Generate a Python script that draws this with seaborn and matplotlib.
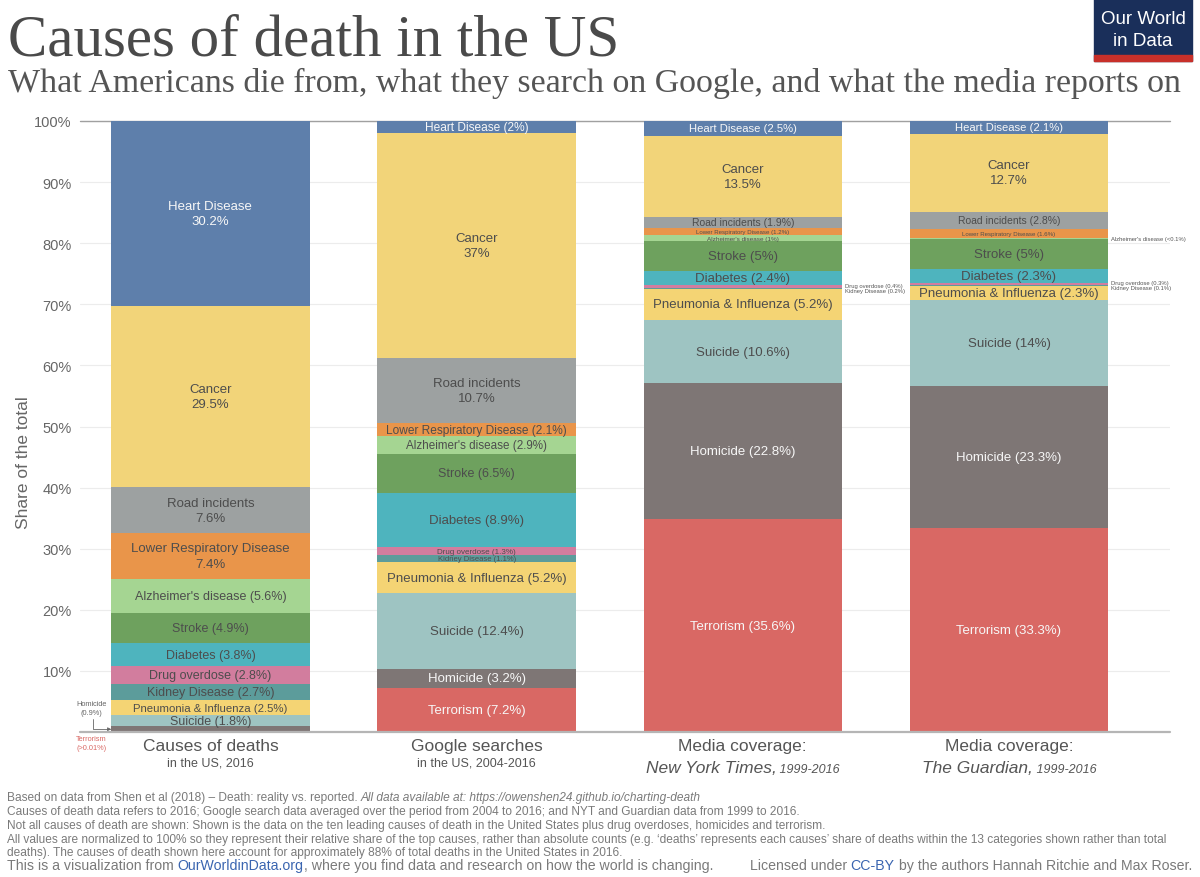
import matplotlib.pyplot as plt
import matplotlib.transforms as mtransforms
import pandas as pd
import seaborn as sns
from matplotlib.patches import Rectangle

SOURCES = ["deaths", "google", "nyt", "guardian"]

# bottom -> top stacking order
CAUSES = [
    "Terrorism", "Homicide", "Suicide", "Pneumonia & Influenza", "Kidney Disease",
    "Drug overdose", "Diabetes", "Stroke", "Alzheimer's disease",
    "Lower Respiratory Disease", "Road incidents", "Cancer", "Heart Disease",
]
DEATHS = [0.01, 0.9, 1.8, 2.5, 2.7, 2.8, 3.8, 4.9, 5.6, 7.4, 7.6, 29.5, 30.2]
GOOGLE = [7.2, 3.2, 12.4, 5.2, 1.1, 1.3, 8.9, 6.5, 2.9, 2.1, 10.7, 37, 2]
NYT = [35.6, 22.8, 10.6, 5.2, 0.2, 0.4, 2.4, 5, 1, 1.2, 1.9, 13.5, 2.5]
GUARDIAN = [33.3, 23.3, 14, 2.3, 0.1, 0.3, 2.3, 5, 0.05, 1.6, 2.8, 12.7, 2.1]

YTICKS = [10, 20, 30, 40, 50, 60, 70, 80, 90, 100]

COLORS = {
    "Heart Disease": "#5E7FAB",
    "Cancer": "#F2D479",
    "Road incidents": "#9DA1A1",
    "Lower Respiratory Disease": "#E9954A",
    "Alzheimer's disease": "#A5D592",
    "Stroke": "#6EA15E",
    "Diabetes": "#4EB4BE",
    "Drug overdose": "#D27D9E",
    "Kidney Disease": "#5C9C9B",
    "Pneumonia & Influenza": "#F4D474",
    "Suicide": "#9EC4C2",
    "Homicide": "#7E7675",
    "Terrorism": "#D96864",
}
WHITE_TEXT = {"Heart Disease", "Homicide", "Terrorism"}
TWO_LINE = {"Heart Disease", "Cancer", "Road incidents", "Lower Respiratory Disease"}
PCT_TEXT = {("guardian", "Alzheimer's disease"): "<0.1%", ("deaths", "Terrorism"): ">0.01%"}

SIZES = {
    ("deaths", "Alzheimer's disease"): 9, ("deaths", "Stroke"): 9,
    ("deaths", "Diabetes"): 9, ("deaths", "Drug overdose"): 9,
    ("deaths", "Kidney Disease"): 9, ("deaths", "Pneumonia & Influenza"): 8.2,
    ("deaths", "Suicide"): 9,
    ("google", "Heart Disease"): 8.6, ("google", "Lower Respiratory Disease"): 8.6,
    ("google", "Alzheimer's disease"): 8.4, ("google", "Stroke"): 9,
    ("google", "Drug overdose"): 5.8, ("google", "Kidney Disease"): 5.5,
    ("nyt", "Heart Disease"): 8.1, ("nyt", "Road incidents"): 7.5,
    ("nyt", "Lower Respiratory Disease"): 4.4, ("nyt", "Alzheimer's disease"): 4.6,
    ("guardian", "Heart Disease"): 8.1, ("guardian", "Road incidents"): 7.5,
    ("guardian", "Lower Respiratory Disease"): 4.4,
}
# labels drawn beside the bar (right side), with vertical anchoring
RIGHT_LABELS = {
    ("nyt", "Drug overdose"): "bottom", ("nyt", "Kidney Disease"): "top",
    ("guardian", "Alzheimer's disease"): "center",
    ("guardian", "Drug overdose"): "bottom", ("guardian", "Kidney Disease"): "top",
}
LEFT_LABELS = {("deaths", "Homicide"), ("deaths", "Terrorism")}

GREY = "#555555"
FOOT = "#7a7a7a"
BLUE = "#3a65b0"
BAR_W = 0.745


def build_frame():
    rows = []
    for source, values in zip(SOURCES, [DEATHS, GOOGLE, NYT, GUARDIAN]):
        total = sum(values)
        bottom = 0.0
        for cause, v in zip(CAUSES, values):
            share = v / total * 100
            rows.append(dict(source=source, cause=cause, value=v,
                             bottom=bottom, top=bottom + share))
            bottom += share
    return pd.DataFrame(rows)


def pieces_text(fig, x, y, pieces, transform, ha="center"):
    """Draw a run of differently styled strings on one baseline."""
    renderer = fig.canvas.get_renderer()
    texts = [fig.text(x, y, s, transform=transform, ha="left", va="baseline", **kw)
             for s, kw in pieces]
    widths = [t.get_window_extent(renderer).width for t in texts]
    total = sum(widths)
    offset = {"center": -total / 2, "left": 0, "right": -total}[ha]
    for t, w in zip(texts, widths):
        t.set_transform(transform + mtransforms.ScaledTranslation(
            offset / fig.dpi, 0, fig.dpi_scale_trans))
        offset += w


def main():
    df = build_frame()

    sns.set_theme(style="white")
    plt.rcParams["font.family"] = ["Liberation Sans", "DejaVu Sans"]

    fig = plt.figure(figsize=(12, 8.78), dpi=100)
    ax = fig.add_axes([80 / 1200, 145 / 878, 1090 / 1200, 611 / 878])

    # cumulative bars drawn top-down so each covers the one beneath
    for cause in reversed(CAUSES):
        sub = df[df["cause"] == cause]
        sns.barplot(data=sub, x="source", y="top", order=SOURCES,
                    color=COLORS[cause], saturation=1, width=BAR_W,
                    errorbar=None, linewidth=0, zorder=2, ax=ax)

    ax.set_xlim(-0.49, 3.605)
    ax.set_ylim(0, 100)
    ax.set_yticks(YTICKS)
    ax.set_yticklabels([f"{v}%" for v in YTICKS], color="#666666", fontsize=10.5)
    ax.tick_params(axis="y", length=0, pad=6)
    ax.set_xticks([])
    ax.set_xlabel("")
    ax.set_ylabel("Share of the total", color="#666666", fontsize=12.5)
    ax.yaxis.set_label_coords(-0.0445, 0.443)
    ax.yaxis.grid(True, color="#ececec", lw=0.8)
    ax.set_axisbelow(True)
    for s in ax.spines.values():
        s.set_visible(False)
    ax.axhline(100, color="#a0a0a0", lw=1, zorder=1, clip_on=False)
    ax.axhline(0, color="#b5b5b5", lw=1.6, zorder=3, clip_on=False)

    # segment labels
    for row in df.itertuples():
        key = (row.source, row.cause)
        x = SOURCES.index(row.source)
        pct = PCT_TEXT.get(key, f"{row.value:g}%")
        if key in RIGHT_LABELS:
            va = RIGHT_LABELS[key]
            y = {"bottom": row.bottom, "top": row.top,
                 "center": (row.bottom + row.top) / 2}[va]
            ax.text(x + BAR_W / 2 + 0.012, y, f"{row.cause} ({pct})", ha="left",
                    va=va, fontsize=4.2, color=GREY, clip_on=False)
            continue
        if key in LEFT_LABELS:
            continue
        if row.cause in TWO_LINE and row.value >= 7:
            text = f"{row.cause}\n{pct}"
        else:
            text = f"{row.cause} ({pct})"
        color = "#f7f7f7" if row.cause in WHITE_TEXT else "#4d4d4d"
        ax.text(x, (row.bottom + row.top) / 2, text, ha="center", va="center",
                fontsize=SIZES.get(key, 9.5), color=color, linespacing=1.35, zorder=3)

    # left-side notes for the tiny death shares
    hom = df[(df["source"] == "deaths") & (df["cause"] == "Homicide")].iloc[0]
    ax.text(-0.447, 3.9, "Homicide\n(0.9%)", ha="center", va="center",
            fontsize=5.3, color="#666666", linespacing=1.3, clip_on=False)
    ax.text(-0.447, -1.8, "Terrorism\n(" + PCT_TEXT[("deaths", "Terrorism")] + ")",
            ha="center", va="center", fontsize=5.3, color="#D96864",
            linespacing=1.3, clip_on=False)
    ax.annotate("", xy=(-BAR_W / 2, (hom.bottom + hom.top) / 2), xytext=(-0.44, 2.2),
                arrowprops=dict(arrowstyle="-|>", color="#666666", lw=0.6,
                                mutation_scale=5, shrinkA=0, shrinkB=0,
                                connectionstyle="angle,angleA=-90,angleB=0,rad=0"),
                annotation_clip=False)

    # category labels under the bars
    blend = mtransforms.blended_transform_factory(ax.transData, fig.transFigure)
    main_kw = dict(fontsize=12.5, color=GREY)
    sub_kw = dict(fontsize=9, color=GREY)
    lines = {
        "deaths": ([("Causes of deaths", main_kw)], [("in the US, 2016", sub_kw)]),
        "google": ([("Google searches", main_kw)], [("in the US, 2004-2016", sub_kw)]),
        "nyt": ([("Media coverage:", main_kw)],
                [("New York Times,", dict(main_kw, style="italic")),
                 (" 1999-2016", dict(sub_kw, style="italic"))]),
        "guardian": ([("Media coverage:", main_kw)],
                     [("The Guardian,", dict(main_kw, style="italic")),
                      (" 1999-2016", dict(sub_kw, style="italic"))]),
    }
    fig.canvas.draw()
    for i, source in enumerate(SOURCES):
        first, second = lines[source]
        pieces_text(fig, i, 1 - 751 / 878, first, blend)
        y2 = 1 - (773 if source in ("nyt", "guardian") else 767) / 878
        pieces_text(fig, i, y2, second, blend)

    # title block
    serif = ["Liberation Serif", "DejaVu Serif"]
    fig.text(8 / 1200, 1 - 56 / 878, "Causes of death in the US", fontsize=42.5,
             family=serif, color="#4a4a4a", va="baseline")
    fig.text(8 / 1200, 1 - 92 / 878,
             "What Americans die from, what they search on Google, and what the media reports on",
             fontsize=24.4, family=serif, color="#555555", va="baseline")

    # logo
    fig.patches.append(Rectangle((1094 / 1200, 1 - 62 / 878), 98 / 1200, 62 / 878,
                                 transform=fig.transFigure, color="#1a2f5a", zorder=0))
    fig.patches.append(Rectangle((1094 / 1200, 1 - 62 / 878), 98 / 1200, 6 / 878,
                                 transform=fig.transFigure, color="#c8302a", zorder=1))
    fig.text(1143 / 1200, 1 - 19 / 878, "Our World", color="white", fontsize=13.5,
             ha="center", va="center")
    fig.text(1143 / 1200, 1 - 41 / 878, "in Data", color="white", fontsize=13.5,
             ha="center", va="center")

    # footer
    fk = dict(fontsize=8.6, color=FOOT)
    left = fig.transFigure
    x0 = 7 / 1200
    pieces_text(fig, x0, 1 - 801 / 878, [
        ("Based on data from Shen et al (2018) – Death: reality vs. reported. ", fk),
        ("All data available at: https://owenshen24.github.io/charting-death",
         dict(fk, style="italic")),
    ], left, ha="left")
    notes = [
        "Causes of death data refers to 2016; Google search data averaged over the period "
        "from 2004 to 2016; and NYT and Guardian data from 1999 to 2016.",
        "Not all causes of death are shown: Shown is the data on the ten leading causes of "
        "death in the United States plus drug overdoses, homicides and terrorism.",
        "All values are normalized to 100% so they represent their relative share of the top "
        "causes, rather than absolute counts (e.g. \u2018deaths\u2019 represents each causes\u2019 "
        "share of deaths within the 13 categories shown rather than total",
        "deaths). The causes of death shown here account for approximately 88% of total "
        "deaths in the United States in 2016.",
    ]
    for k, note in enumerate(notes):
        fig.text(x0, 1 - (815 + 13.8 * k) / 878, note, va="baseline", **fk)
    lk = dict(fontsize=10.2, color=FOOT)
    pieces_text(fig, x0, 1 - 870 / 878, [
        ("This is a visualization from ", lk),
        ("OurWorldinData.org", dict(lk, color=BLUE)),
        (", where you find data and research on how the world is changing.", lk),
    ], left, ha="left")
    pieces_text(fig, 1192 / 1200, 1 - 870 / 878, [
        ("Licensed under ", lk),
        ("CC-BY", dict(lk, color=BLUE)),
        (" by the authors Hannah Ritchie and Max Roser.", lk),
    ], left, ha="right")

    fig.savefig("out.png", dpi=100)
    plt.close(fig)


if __name__ == "__main__":
    main()
